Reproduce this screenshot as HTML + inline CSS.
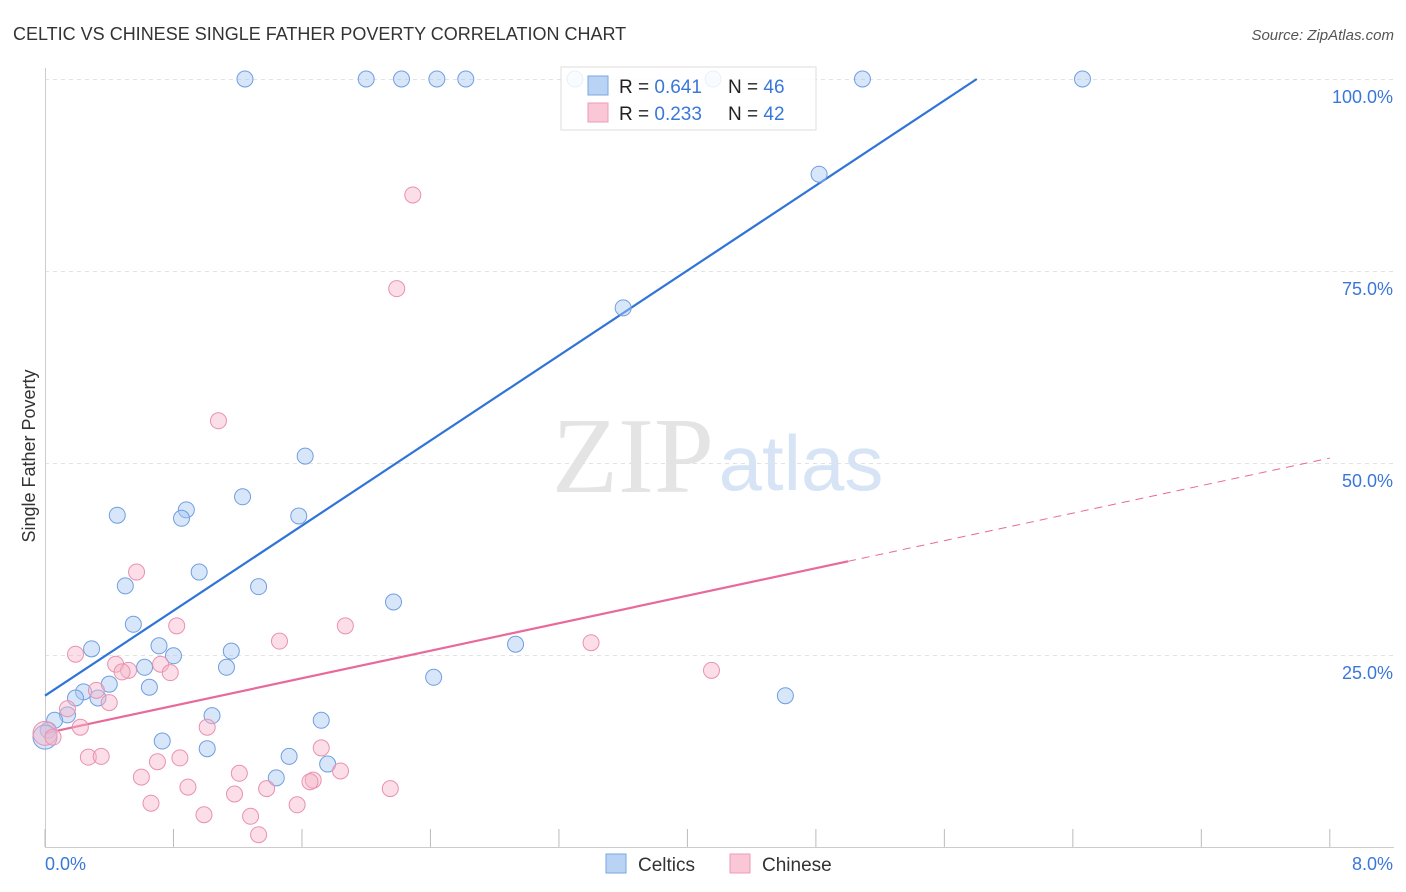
<!DOCTYPE html>
<html><head><meta charset="utf-8"><style>
body{margin:0;background:#fff;font-family:"Liberation Sans",sans-serif;}
svg{display:block}
</style></head><body>
<svg id="c" width="1406" height="892" xmlns="http://www.w3.org/2000/svg">
<text x="13" y="40" font-size="18" fill="#333">CELTIC VS CHINESE SINGLE FATHER POVERTY CORRELATION CHART</text>
<text x="1394" y="40" font-size="15" fill="#555" font-style="italic" text-anchor="end">Source: ZipAtlas.com</text>
<text x="35" y="456" font-size="18" fill="#333" text-anchor="middle" transform="rotate(-90 35 456)">Single Father Poverty</text>
<g><text x="633" y="492" font-size="108" fill="#e4e4e4" font-family="Liberation Serif" text-anchor="middle">ZIP</text><text x="801" y="490" font-size="78" fill="#d6e4f5" text-anchor="middle">atlas</text></g>
<g id="grid"></g><g id="axes"></g><g id="lines"></g><g id="pts"></g>
<g>
<rect x="561" y="67" width="255" height="63" fill="#fff" fill-opacity="0.85" stroke="#ddd"/>
<rect x="588" y="76" width="20" height="19" fill="#b9d3f5" stroke="#7aa7e0"/>
<rect x="588" y="103" width="20" height="19" fill="#fac7d6" stroke="#ee9bb5"/>
<text x="619" y="93" font-size="19" fill="#222">R = <tspan fill="#3a78d8">0.641</tspan></text>
<text x="728" y="93" font-size="19" fill="#222">N = <tspan fill="#3a78d8">46</tspan></text>
<text x="619" y="120" font-size="19" fill="#222">R = <tspan fill="#3a78d8">0.233</tspan></text>
<text x="728" y="120" font-size="19" fill="#222">N = <tspan fill="#3a78d8">42</tspan></text>
</g>
<g>
<rect x="606" y="854" width="20" height="19" fill="#b9d3f5" stroke="#7aa7e0"/>
<text x="638" y="871" font-size="19" fill="#333">Celtics</text>
<rect x="730" y="854" width="20" height="19" fill="#fac7d6" stroke="#ee9bb5"/>
<text x="762" y="871" font-size="19" fill="#333">Chinese</text>
</g>
</svg>
<script>
const yTicks=[25,50,75,100];
const yTickLabels=["25.0%","50.0%","75.0%","100.0%"];
const xTickLabels=["0.0%","8.0%"];
const celticX=[1.245,2.0,2.22,2.44,2.62,3.30,4.16,5.09,6.46,4.82,3.60,1.62,1.23,0.88,0.85,0.45,1.58,0.96,0.50,1.33,2.17,0.55,2.93,0.71,0.29,1.16,0.80,0.62,1.13,2.42,0.40,0.65,0.24,0.19,0.33,4.61,0.14,1.04,1.72,0.06,0.02,0.73,1.01,1.52,1.76,1.44,0.0];
const celticY=[100,100,100,100,100,100,100,100,100,87.6,70.2,50.9,45.6,43.9,42.8,43.2,43.1,35.8,34.0,33.9,31.9,29.0,26.4,26.2,25.8,25.5,24.9,23.4,23.4,22.1,21.2,20.8,20.2,19.4,19.4,19.7,17.2,17.1,16.5,16.5,15.2,13.8,12.8,11.8,10.8,9.0,14.3];
const chineseX=[2.29,2.19,1.08,0.57,1.87,0.82,1.46,3.40,0.19,0.44,0.72,0.52,0.48,0.78,4.15,0.32,0.40,0.14,0.22,1.01,0,0.05,1.72,0.27,0.35,0.84,0.70,1.21,1.84,0.60,1.67,1.65,0.89,2.15,1.18,1.38,0.66,1.57,0.99,1.28,1.33];
const chineseY=[84.9,72.7,55.5,35.8,28.8,28.8,26.8,26.6,25.1,23.8,23.8,23.0,22.8,22.7,23.0,20.4,18.8,18.0,15.6,15.6,14.8,14.3,12.9,11.7,11.8,11.6,11.1,9.6,9.9,9.1,8.7,8.5,7.8,7.6,6.9,7.6,5.7,5.5,4.2,4.0,1.6];
const celticFit=[19.7,13.84];   // intercept, slope
const chineseFit=[14.8,4.48];
const NS="http://www.w3.org/2000/svg";
const xs=v=>45+v*160.6, ys=v=>847-v*7.68;
function mk(t,a,p){const e=document.createElementNS(NS,t);for(const k in a)e.setAttribute(k,a[k]);document.getElementById(p).appendChild(e);return e;}
yTicks.forEach((t,i)=>{
 const g=mk('line',{x1:45,x2:1394,y1:ys(t)+0.5,y2:ys(t)+0.5,stroke:'#e2e2e2','stroke-dasharray':'4,4'},'grid');
 
 
 const l=mk('text',{x:1393,y:ys(t)+24,'font-size':18,fill:'#3a78d8','text-anchor':'end'},'axes');l.textContent=yTickLabels[i];
 
 
});
mk('line',{x1:45.5,x2:45.5,y1:68,y2:847,stroke:'#ccc'},'axes');
mk('line',{x1:45,x2:1394,y1:847.5,y2:847.5,stroke:'#ccc'},'axes');
for(let i=0;i<=10;i++){mk('line',{x1:xs(i*0.8),x2:xs(i*0.8),y1:829,y2:847,stroke:'#bbb'},'axes');}
[[0,'start',45],[8,'end',1393]].forEach((d,i)=>{const t=mk('text',{x:d[2],y:870,'font-size':18,fill:'#3a78d8','text-anchor':d[1]},'axes');t.textContent=xTickLabels[i];
 
 });
const bx2=(100-celticFit[0])/celticFit[1];
const bl=mk('line',{x1:xs(0),y1:ys(celticFit[0]),x2:xs(bx2),y2:ys(100),stroke:'#2f74d6','stroke-width':2.2},'lines');


const pl=mk('line',{x1:xs(0),y1:ys(chineseFit[0]),x2:xs(5),y2:ys(chineseFit[0]+5*chineseFit[1]),stroke:'#e8699a','stroke-width':2.2},'lines');


const pd=mk('line',{x1:xs(5),y1:ys(chineseFit[0]+5*chineseFit[1]),x2:xs(8),y2:ys(chineseFit[0]+8*chineseFit[1]),stroke:'#e8699a','stroke-width':1,'stroke-dasharray':'8,6'},'lines');


function pts(X,Y,fill,stroke,name){X.forEach((x,i)=>{const r=(x===0)?12:8;
 const c=mk('circle',{cx:xs(x),cy:ys(Y[i]),r:r,fill:fill,'fill-opacity':0.45,stroke:stroke,'stroke-width':1},'pts');
 
 });}
pts(celticX,celticY,'#a9c8f2','#6f9fe0','celtics-point');
pts(chineseX,chineseY,'#f7b5c9','#ea91ae','chinese-point');
</script>
</body></html>
